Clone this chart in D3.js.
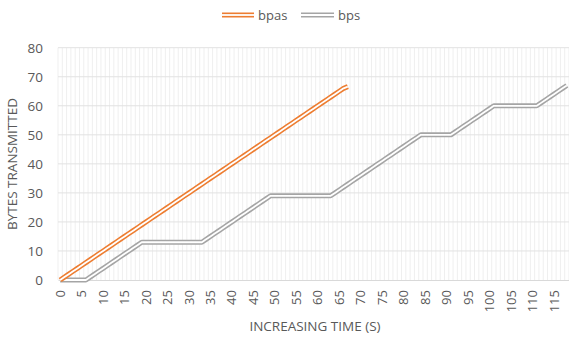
<!DOCTYPE html>
<html>
<head>
<meta charset="utf-8">
<script src="https://cdn.jsdelivr.net/npm/d3@7"></script>
<style>
  body { margin: 0; background: #fff; }
  text { font-family: "Open Sans", "Noto Sans", sans-serif; fill: #595959; }
</style>
</head>
<body>
<svg id="chart" width="569" height="338"></svg>
<script>
// ---- data ----
const seriesNames = ["bpas", "bps"];
const seriesColors = ["#ED7D31", "#A5A5A5"];
const bpas = [0,1,2,3,4,5,6,7,8,9,10,11,12,13,14,15,16,17,18,19,20,21,22,23,24,25,26,27,28,29,30,31,32,33,34,35,36,37,38,39,40,41,42,43,44,45,46,47,48,49,50,51,52,53,54,55,56,57,58,59,60,61,62,63,64,65,66,66.6];
const bps = [0,0,0,0,0,0,0,
  1,2,3,4,5,6,7,8,9,10,11,12,13,
  13,13,13,13,13,13,13,13,13,13,13,13,13,13,
  14,15,16,17,18,19,20,21,22,23,24,25,26,27,28,29,
  29,29,29,29,29,29,29,29,29,29,29,29,29,29,
  30,31,32,33,34,35,36,37,38,39,40,41,42,43,44,45,46,47,48,49,50,
  50,50,50,50,50,50,50,
  51,52,53,54,55,56,57,58,59,60,
  60,60,60,60,60,60,60,60,60,60,
  61,62,63,64,65,66,67];
const categories = d3.range(bps.length); // 0..118 seconds
const yTicks = [0,10,20,30,40,50,60,70,80];
const xTitle = "INCREASING TIME (S)";
const yTitle = "BYTES TRANSMITTED";

// ---- layout ----
const svg = d3.select("#chart");
const pLeft = 58, pRight = 569, pTop = 47.7, pBottom = 280;

const x = d3.scaleBand().domain(categories).range([pLeft, pRight]).paddingInner(0).paddingOuter(0);
const xc = d => x(d) + x.bandwidth() / 2;
const y = d3.scaleLinear().domain([0, 80]).range([pBottom, pTop]);

// vertical gridlines (one per category boundary)
svg.append("g").selectAll("line")
  .data(categories.concat([categories.length]))
  .join("line")
  .attr("x1", d => pLeft + d * x.bandwidth()).attr("x2", d => pLeft + d * x.bandwidth())
  .attr("y1", pTop).attr("y2", pBottom)
  .attr("stroke", "#efefef").attr("stroke-width", 1);

// horizontal gridlines
svg.append("g").selectAll("line")
  .data(yTicks.slice(1))
  .join("line")
  .attr("x1", pLeft).attr("x2", pRight)
  .attr("y1", d => y(d)).attr("y2", d => y(d))
  .attr("stroke", "#e2e2e2").attr("stroke-width", 1);

// x axis
const xAxis = d3.axisBottom(x)
  .tickValues(categories.filter(d => d % 5 === 0))
  .tickSize(0).tickPadding(0);
const gx = svg.append("g").attr("transform", `translate(0,${pBottom})`).call(xAxis);
gx.select(".domain").attr("stroke", "#d9d9d9").attr("stroke-width", 1);
gx.selectAll("text")
  .attr("font-size", 13)
  .attr("fill", "#595959")
  .attr("text-anchor", "end")
  .attr("dy", "0.35em")
  .attr("transform", d => `translate(0,10) rotate(-90)`)
  .attr("x", 0).attr("y", 0);

// y axis
const yAxis = d3.axisLeft(y).tickValues(yTicks).tickSize(0).tickPadding(15);
const gy = svg.append("g").attr("transform", `translate(${pLeft},0)`).call(yAxis);
gy.select(".domain").remove();
gy.selectAll("text").attr("font-size", 13.5).attr("fill", "#595959");

// axis titles
svg.append("text")
  .attr("x", 315).attr("y", 331)
  .attr("text-anchor", "middle").attr("font-size", 13.5)
  .text(xTitle);
svg.append("text")
  .attr("transform", `translate(17,164) rotate(-90)`)
  .attr("text-anchor", "middle").attr("font-size", 13.5)
  .text(yTitle);

// double lines
function drawDouble(data, color) {
  const line = d3.line().x((d, i) => xc(categories[i])).y(d => y(d));
  svg.append("path").datum(data).attr("d", line)
    .attr("fill", "none").attr("stroke", color).attr("stroke-width", 5)
    .attr("stroke-linejoin", "round");
  svg.append("path").datum(data).attr("d", line)
    .attr("fill", "none").attr("stroke", "#fff").attr("stroke-width", 1.8)
    .attr("stroke-linejoin", "round");
}
drawDouble(bps, seriesColors[1]);
drawDouble(bpas, seriesColors[0]);

// legend
const legendItems = [
  { name: seriesNames[0], color: seriesColors[0], x0: 222, x1: 254, tx: 258 },
  { name: seriesNames[1], color: seriesColors[1], x0: 301, x1: 334, tx: 338 }
];
const lg = svg.append("g");
legendItems.forEach(it => {
  lg.append("line").attr("x1", it.x0).attr("x2", it.x1).attr("y1", 15).attr("y2", 15)
    .attr("stroke", it.color).attr("stroke-width", 5);
  lg.append("line").attr("x1", it.x0).attr("x2", it.x1).attr("y1", 15).attr("y2", 15)
    .attr("stroke", "#fff").attr("stroke-width", 1.8);
  lg.append("text").attr("x", it.tx).attr("y", 15).attr("dy", "0.35em")
    .attr("font-size", 13).text(it.name);
});
</script>
</body>
</html>
